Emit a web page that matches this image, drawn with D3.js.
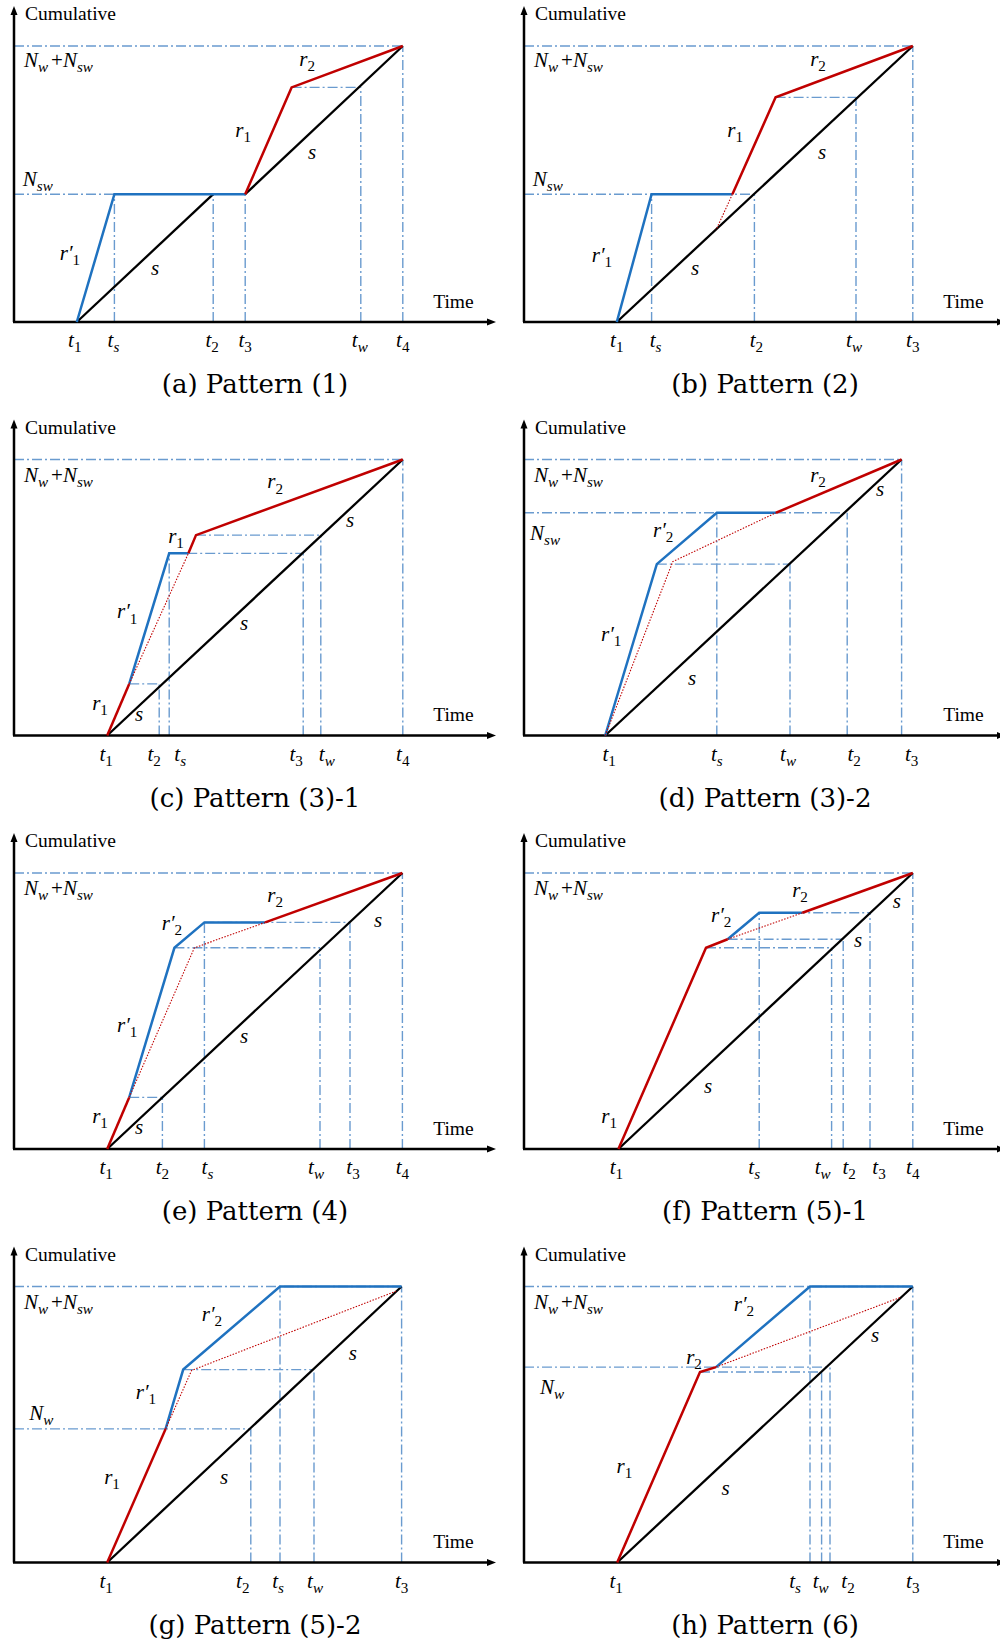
<!DOCTYPE html>
<html>
<head>
<meta charset="utf-8">
<script src="https://cdn.jsdelivr.net/npm/d3@7"></script>
<style>
  body { margin: 0; background: #fff; }
  svg { display: block; }
</style>
</head>
<body>
<svg id="chart" width="1000" height="1646"></svg>
<script>
// data units: time 0..12 on x, cumulative 0..10 on y (10 = Nw + Nsw)
const captions = ["(a) Pattern (1)", "(b) Pattern (2)", "(c) Pattern (3)-1", "(d) Pattern (3)-2",
                  "(e) Pattern (4)", "(f) Pattern (5)-1", "(g) Pattern (5)-2", "(h) Pattern (6)"];

// (a)
const ticks_a = ["t_1", "t_s", "t_2", "t_3", "t_w", "t_4"];
const times_a = [1.57, 2.51, 4.98, 5.78, 8.67, 9.72];
const nudge_a = [-2, -1, -1, 0, -1, 0];
const black_a = [[[1.57, 0], [4.98, 4.63]], [[5.78, 4.63], [9.72, 10]]];
const blue_a = [[[1.57, 0], [2.51, 4.63], [5.78, 4.63]]];
const red_a = [[[5.78, 4.63], [6.94, 8.5], [9.72, 10]]];
const dotted_a = [];
const guides_a = [[[0, 10], [9.72, 10]], [[0, 4.63], [2.51, 4.63]], [[6.94, 8.5], [8.67, 8.5]],
  [[2.51, 0], [2.51, 4.63]], [[4.98, 0], [4.98, 4.63]], [[5.78, 0], [5.78, 4.63]],
  [[8.67, 0], [8.67, 8.5]], [[9.72, 0], [9.72, 10]]];
const labels_a = [["N_w+N_sw", 0.25, 9.24, "start"], ["N_sw", 0.22, 4.93, "start"], ["r_2", 7.33, 9.28],
  ["r_1", 5.73, 6.7], ["s", 7.45, 5.91], ["r'_1", 1.4, 2.25], ["s", 3.53, 1.7]];

// (b)
const ticks_b = ["t_1", "t_s", "t_2", "t_w", "t_3"];
const times_b = [2.32, 3.19, 5.76, 8.3, 9.72];
const nudge_b = [0, 4, 2, -2, 0];
const black_b = [[[2.32, 0], [9.72, 10]]];
const blue_b = [[[2.32, 0], [3.19, 4.63], [5.21, 4.63]]];
const red_b = [[[5.21, 4.63], [6.29, 8.14], [9.72, 10]]];
const dotted_b = [[[5.21, 4.63], [4.8, 3.33]]];
const guides_b = [[[0, 10], [9.72, 10]], [[0, 4.63], [5.76, 4.63]], [[6.29, 8.14], [8.3, 8.14]],
  [[3.19, 0], [3.19, 4.63]], [[5.76, 0], [5.76, 4.63]], [[8.3, 0], [8.3, 8.14]], [[9.72, 0], [9.72, 10]]];
const labels_b = [["N_w+N_sw", 0.25, 9.24, "start"], ["N_sw", 0.22, 4.93, "start"], ["r_2", 7.35, 9.28],
  ["r_1", 5.28, 6.7], ["s", 7.45, 5.91], ["r'_1", 1.95, 2.17], ["s", 4.28, 1.7]];

// (c)
const ticks_c = ["t_1", "t_2", "t_s", "t_3", "t_w", "t_4"];
const times_c = [2.33, 3.63, 3.88, 7.23, 7.67, 9.72];
const nudge_c = [-1, -5, 11, -7, 6, 0];
const black_c = [[[2.33, 0], [9.72, 10]]];
const blue_c = [[[2.88, 1.87], [3.88, 6.6], [4.36, 6.6]]];
const red_c = [[[2.33, 0], [2.88, 1.87]], [[4.36, 6.6], [4.55, 7.26], [9.72, 10]]];
const dotted_c = [[[2.88, 1.87], [4.36, 6.6]]];
const guides_c = [[[0, 10], [9.72, 10]], [[2.88, 1.87], [3.63, 1.87]], [[3.63, 0], [3.63, 1.87]],
  [[3.88, 0], [3.88, 6.6]], [[3.88, 6.6], [7.23, 6.6]], [[7.23, 0], [7.23, 6.6]],
  [[4.55, 7.26], [7.67, 7.26]], [[7.67, 0], [7.67, 7.26]], [[9.72, 0], [9.72, 10]]];
const labels_c = [["N_w+N_sw", 0.25, 9.2, "start"], ["r_2", 6.53, 8.95], ["r_1", 4.05, 6.96],
  ["s", 8.4, 7.57], ["r'_1", 2.83, 4.24], ["s", 5.75, 3.82], ["r_1", 2.15, 0.92], ["s", 3.13, 0.51]];

// (d)
const ticks_d = ["t_1", "t_s", "t_w", "t_2", "t_3"];
const times_d = [2.03, 4.82, 6.65, 8.08, 9.44];
const nudge_d = [4, 0, -2, 7, 10];
const black_d = [[[2.03, 0], [9.44, 10]]];
const blue_d = [[[2.03, 0], [3.32, 6.21], [4.82, 8.07], [6.3, 8.07]]];
const red_d = [[[6.3, 8.07], [9.44, 10]]];
const dotted_d = [[[2.03, 0], [3.72, 6.3], [6.3, 8.07]]];
const guides_d = [[[0, 10], [9.44, 10]], [[0, 8.07], [8.08, 8.07]], [[3.32, 6.21], [6.65, 6.21]],
  [[4.82, 0], [4.82, 8.07]], [[6.65, 0], [6.65, 6.21]], [[8.08, 0], [8.08, 8.07]], [[9.44, 0], [9.44, 10]]];
const labels_d = [["N_w+N_sw", 0.25, 9.2, "start"], ["N_sw", 0.15, 7.08, "start"], ["r_2", 7.35, 9.2],
  ["s", 8.9, 8.66], ["r'_2", 3.48, 7.21], ["r'_1", 2.18, 3.41], ["s", 4.2, 1.83]];

// (e)
const ticks_e = ["t_1", "t_2", "t_s", "t_w", "t_3", "t_4"];
const times_e = [2.33, 3.71, 4.76, 7.65, 8.4, 9.71];
const nudge_e = [-1, 0, 3, -4, 3, 0];
const black_e = [[[2.33, 0], [9.71, 10]]];
const blue_e = [[[2.88, 1.87], [4.01, 7.29], [4.76, 8.21], [6.28, 8.21]]];
const red_e = [[[2.33, 0], [2.88, 1.87]], [[6.28, 8.21], [9.71, 10]]];
const dotted_e = [[[2.88, 1.87], [4.51, 7.29], [6.28, 8.21]]];
const guides_e = [[[0, 10], [9.71, 10]], [[2.88, 1.87], [3.71, 1.87]], [[3.71, 0], [3.71, 1.87]],
  [[4.76, 0], [4.76, 8.21]], [[4.76, 8.21], [8.4, 8.21]], [[4.01, 7.29], [7.65, 7.29]],
  [[7.65, 0], [7.65, 7.29]], [[8.4, 0], [8.4, 8.21]], [[9.71, 0], [9.71, 10]]];
const labels_e = [["N_w+N_sw", 0.25, 9.2, "start"], ["r_2", 6.53, 8.96], ["s", 9.1, 8.05],
  ["r'_2", 3.95, 7.93], ["r'_1", 2.83, 4.25], ["s", 5.75, 3.84], ["r_1", 2.15, 0.94], ["s", 3.13, 0.54]];

// (f)
const ticks_f = ["t_1", "t_s", "t_w", "t_2", "t_3", "t_4"];
const times_f = [2.36, 5.88, 7.69, 7.98, 8.65, 9.72];
const nudge_f = [-2, -5, -9, 6, 9, 0];
const black_f = [[[2.36, 0], [9.72, 10]]];
const blue_f = [[[5.09, 7.6], [5.88, 8.56], [6.96, 8.56]]];
const red_f = [[[2.36, 0], [4.55, 7.29], [5.09, 7.6]], [[6.96, 8.56], [9.72, 10]]];
const dotted_f = [[[5.09, 7.6], [6.96, 8.56]]];
const guides_f = [[[0, 10], [9.72, 10]], [[4.55, 7.29], [7.69, 7.29]], [[5.09, 7.6], [7.98, 7.6]],
  [[5.88, 8.56], [8.65, 8.56]], [[5.88, 0], [5.88, 8.56]], [[7.69, 0], [7.69, 7.29]],
  [[7.98, 0], [7.98, 7.6]], [[8.65, 0], [8.65, 8.56]], [[9.72, 0], [9.72, 10]]];
const labels_f = [["N_w+N_sw", 0.25, 9.2, "start"], ["r_2", 6.9, 9.14], ["r'_2", 4.93, 8.24],
  ["s", 9.32, 8.73], ["s", 8.35, 7.33], ["s", 4.6, 2.03], ["r_1", 2.13, 0.94]];

// (g)
const ticks_g = ["t_1", "t_2", "t_s", "t_w", "t_3"];
const times_g = [2.33, 5.92, 6.65, 7.5, 9.69];
const nudge_g = [-1, -8, -2, 1, 0];
const black_g = [[[2.33, 0], [9.69, 10]]];
const blue_g = [[[3.79, 4.84], [4.23, 6.99], [6.65, 10], [9.69, 10]]];
const red_g = [[[2.33, 0], [3.79, 4.84]]];
const dotted_g = [[[3.79, 4.84], [4.44, 6.96], [9.55, 9.83]]];
const guides_g = [[[0, 10], [9.69, 10]], [[0, 4.84], [5.92, 4.84]], [[4.23, 6.99], [7.5, 6.99]],
  [[5.92, 0], [5.92, 4.84]], [[6.65, 0], [6.65, 10]], [[7.5, 0], [7.5, 6.99]], [[9.69, 0], [9.69, 10]]];
const labels_g = [["N_w+N_sw", 0.25, 9.2, "start"], ["N_w", 0.38, 5.18, "start"], ["r'_2", 4.95, 8.74],
  ["r'_1", 3.3, 5.91], ["r_1", 2.45, 2.83], ["s", 5.25, 2.83], ["s", 8.47, 7.32]];

// (h)
const ticks_h = ["t_1", "t_s", "t_w", "t_2", "t_3"];
const times_h = [2.33, 7.15, 7.44, 7.65, 9.72];
const nudge_h = [-1, -15, -1, 18, 0];
const black_h = [[[2.33, 0], [9.72, 10]]];
const blue_h = [[[4.8, 7.08], [7.15, 10], [9.72, 10]]];
const red_h = [[[2.33, 0], [4.4, 6.9], [4.8, 7.08]]];
const dotted_h = [[[4.8, 7.08], [9.4, 9.6]]];
const guides_h = [[[0, 10], [9.72, 10]], [[0, 7.08], [7.65, 7.08]], [[4.4, 6.9], [7.44, 6.9]],
  [[7.15, 0], [7.15, 10]], [[7.44, 0], [7.44, 6.9]], [[7.65, 0], [7.65, 7.08]], [[9.72, 0], [9.72, 10]]];
const labels_h = [["N_w+N_sw", 0.25, 9.2, "start"], ["N_w", 0.4, 6.09, "start"], ["r'_2", 5.5, 9.1],
  ["r_2", 4.25, 7.19], ["r_1", 2.51, 3.24], ["s", 8.78, 8.0], ["s", 5.04, 2.46]];

const panels = [
  { ticks: ticks_a, times: times_a, nudge: nudge_a, black: black_a, blue: blue_a, red: red_a, dotted: dotted_a, guides: guides_a, labels: labels_a },
  { ticks: ticks_b, times: times_b, nudge: nudge_b, black: black_b, blue: blue_b, red: red_b, dotted: dotted_b, guides: guides_b, labels: labels_b },
  { ticks: ticks_c, times: times_c, nudge: nudge_c, black: black_c, blue: blue_c, red: red_c, dotted: dotted_c, guides: guides_c, labels: labels_c },
  { ticks: ticks_d, times: times_d, nudge: nudge_d, black: black_d, blue: blue_d, red: red_d, dotted: dotted_d, guides: guides_d, labels: labels_d },
  { ticks: ticks_e, times: times_e, nudge: nudge_e, black: black_e, blue: blue_e, red: red_e, dotted: dotted_e, guides: guides_e, labels: labels_e },
  { ticks: ticks_f, times: times_f, nudge: nudge_f, black: black_f, blue: blue_f, red: red_f, dotted: dotted_f, guides: guides_f, labels: labels_f },
  { ticks: ticks_g, times: times_g, nudge: nudge_g, black: black_g, blue: blue_g, red: red_g, dotted: dotted_g, guides: guides_g, labels: labels_g },
  { ticks: ticks_h, times: times_h, nudge: nudge_h, black: black_h, blue: blue_h, red: red_h, dotted: dotted_h, guides: guides_h, labels: labels_h },
];
panels.forEach((p, i) => (p.caption = captions[i]));

const colX = [0, 510];
const rowY = [0, 413.5, 827, 1240.5];

const x = d3.scaleLinear().domain([0, 12]).range([14, 494]);
const y = d3.scaleLinear().domain([0, 10]).range([322, 46]);
const line = d3.line().x((d) => x(d[0])).y((d) => y(d[1]));

const serif = "'Liberation Serif', 'Times New Roman', serif";
const blueCol = "#1f72c0";
const redCol = "#c00000";
const guideCol = "#6a9bcf";

// italic math text: "N_w+N_sw", "r'_1", "t_s"
function mathText(sel, str, size) {
  const re = /([A-Za-z+])('?)(?:_([a-z0-9]+))?/g;
  let m;
  let cur = 0;
  const span = (txt, target, fs, italic) => {
    const t = sel.append("tspan").attr("dy", target - cur).attr("font-size", fs)
      .attr("font-style", italic ? "italic" : "normal").text(txt);
    cur = target;
    return t;
  };
  while ((m = re.exec(str))) {
    const base = m[1], prime = m[2], sub = m[3];
    if (base === "+") {
      span("+", 0, size, false).attr("dx", 3);
      continue;
    }
    span(prime ? base + "\u2032" : base, 0, size, true);
    if (sub) span(sub, size * 0.24, size * 0.72, !/^\d+$/.test(sub));
  }
}

const svg = d3.select("#chart");

panels.forEach((p, i) => {
  const g = svg.append("g")
    .attr("transform", `translate(${colX[i % 2]},${rowY[Math.floor(i / 2)]})`);

  // guide dash-dot lines
  g.selectAll(".guide").data(p.guides).enter().append("path")
    .attr("class", "guide")
    .attr("d", line)
    .attr("fill", "none")
    .attr("stroke", guideCol)
    .attr("stroke-width", 1.4)
    .attr("stroke-dasharray", "10,3,2,3");

  // axes with arrow heads
  const x0 = x(0), y0 = y(0);
  const yTop = y(11.45), xEnd = x(12.05);
  g.append("line").attr("x1", x0).attr("y1", y0).attr("x2", x0).attr("y2", yTop + 6)
    .attr("stroke", "#000").attr("stroke-width", 2.5);
  g.append("line").attr("x1", x0 - 1).attr("y1", y0).attr("x2", xEnd - 6).attr("y2", y0)
    .attr("stroke", "#000").attr("stroke-width", 2.5);
  g.append("path").attr("d", `M${x0},${yTop} L${x0 - 3.5},${yTop + 9} L${x0 + 3.5},${yTop + 9} Z`).attr("fill", "#000");
  g.append("path").attr("d", `M${xEnd},${y0} L${xEnd - 9},${y0 - 3.5} L${xEnd - 9},${y0 + 3.5} Z`).attr("fill", "#000");

  const series = [
    [p.black, "#000", 2.3, null],
    [p.blue, blueCol, 2.5, null],
    [p.red, redCol, 2.5, null],
    [p.dotted, redCol, 1.1, "1.5,1.5"],
  ];
  series.forEach(([data, col, w, dash]) => {
    g.selectAll(null).data(data).enter().append("path")
      .attr("d", line)
      .attr("fill", "none")
      .attr("stroke", col)
      .attr("stroke-width", w)
      .attr("stroke-linejoin", "miter")
      .attr("stroke-dasharray", dash);
  });

  // axis titles
  g.append("text").attr("x", x(0.275)).attr("y", y(10.94))
    .attr("font-family", serif).attr("font-size", 19.5).text("Cumulative");
  g.append("text").attr("x", x(10.48)).attr("y", y(0.51))
    .attr("font-family", serif).attr("font-size", 19.5).text("Time");

  // tick labels
  p.ticks.forEach((t, k) => {
    const txt = g.append("text")
      .attr("x", x(p.times[k]) + p.nudge[k])
      .attr("y", y0 + 25)
      .attr("text-anchor", "middle")
      .attr("font-family", serif);
    mathText(txt, t, 21);
  });

  // curve labels
  p.labels.forEach(([t, lx, ly, anchor]) => {
    const txt = g.append("text")
      .attr("x", x(lx)).attr("y", y(ly))
      .attr("text-anchor", anchor || "middle")
      .attr("font-family", serif);
    mathText(txt, t, 21);
  });

  // caption
  g.append("text")
    .attr("x", 255).attr("y", y0 + 71)
    .attr("text-anchor", "middle")
    .attr("font-family", "'DejaVu Serif', serif")
    .attr("font-size", 26)
    .text(p.caption);
});
</script>
</body>
</html>
